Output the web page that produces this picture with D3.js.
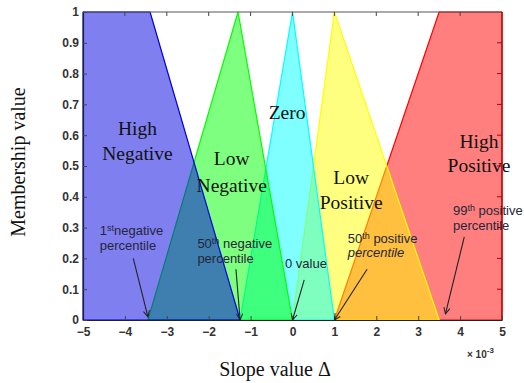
<!DOCTYPE html>
<html><head><meta charset="utf-8">
<script src="https://cdn.jsdelivr.net/npm/d3@7"></script>
<style>body{margin:0;background:#fff}svg{display:block}</style>
</head><body>
<script>
// Data
const xTicks = [-5,-4,-3,-2,-1,0,1,2,3,4,5];
const yTicks = [0,0.1,0.2,0.3,0.4,0.5,0.6,0.7,0.8,0.9,1];
const setNames = ["High Positive","Low Positive","Zero","Low Negative","High Negative"];
const setColors = ["#ff0000","#ffff00","#00ffff","#00ff00","#0000e0"];
const setPoints = [
  [[1.0,0],[3.5,1],[5,1],[5,0]],
  [[0,0],[1.0,1],[3.5,0]],
  [[-1.25,0],[0,1],[1.0,0]],
  [[-3.45,0],[-1.3,1],[0,0]],
  [[-5,0],[-5,1],[-3.4,1],[-1.25,0]]
];
const setLabels = [
  {lines:["High","Positive"], x:4.45, y:[0.56,0.48]},
  {lines:["Low","Positive"], x:1.4, y:[0.44,0.36]},
  {lines:["Zero"], x:-0.13, y:[0.652]},
  {lines:["Low","Negative"], x:-1.45, y:[0.502,0.415]},
  {lines:["High","Negative"], x:-3.7, y:[0.6,0.52]}
];
const notes = [
  {lines:["1|st|negative","percentile"], x:-4.6, y:[0.276,0.228], from:[-3.8,0.2], to:[-3.45,0.01], italic2:false},
  {lines:["50|th| negative","percentile"], x:-2.27, y:[0.234,0.185], from:[-1.35,0.165], to:[-1.25,0.0], italic2:false},
  {lines:["0 value"], x:-0.18, y:[0.17], from:[0.28,0.13], to:[0.0,0.0], italic2:false},
  {lines:["50|th| positive","percentile"], x:1.32, y:[0.25,0.203], from:[1.78,0.165], to:[1.0,0.0], italic2:true},
  {lines:["99|th| positive","percentile"], x:3.83, y:[0.34,0.292], from:[4.1,0.27], to:[3.65,0.02], italic2:false}
];

const W = 524, H = 383;
const m = {l:83, r:22, t:12, b:63};
const svg = d3.select("body").append("svg").attr("width",W).attr("height",H);
const x = d3.scaleLinear().domain([-5,5]).range([m.l, W-m.r]);
const y = d3.scaleLinear().domain([0,1]).range([H-m.b, m.t]);

const defs = svg.append("defs");
defs.append("marker").attr("id","arr").attr("viewBox","0 0 10 10").attr("refX",9).attr("refY",5)
  .attr("markerWidth",7).attr("markerHeight",7).attr("orient","auto")
  .append("path").attr("d","M1,1 L9,5 L1,9").attr("fill","none").attr("stroke","#222").attr("stroke-width",1.3);

// patches
const line = d3.line().x(d=>x(d[0])).y(d=>y(d[1]));
setPoints.forEach((pts,i)=>{
  svg.append("path").attr("d", line(pts)+"Z")
    .attr("fill", setColors[i]).attr("fill-opacity",0.5)
    .attr("stroke", setColors[i]).attr("stroke-width",1.2).attr("stroke-linejoin","round");
});

// frame
svg.append("line").attr("x1",x(-5)).attr("x2",x(5)).attr("y1",y(1)).attr("y2",y(1)).attr("stroke","#555").attr("stroke-width",1);
svg.append("line").attr("x1",x(5)).attr("x2",x(5)).attr("y1",y(1)).attr("y2",y(0)).attr("stroke","#b00000").attr("stroke-width",1.2);

// axes
const xa = svg.append("g").attr("transform",`translate(0,${y(0)})`)
  .call(d3.axisBottom(x).tickValues(xTicks).tickSize(-4).tickPadding(7).tickSizeOuter(0));
const ya = svg.append("g").attr("transform",`translate(${x(-5)},0)`)
  .call(d3.axisLeft(y).tickValues(yTicks).tickSize(-4).tickPadding(4).tickSizeOuter(0)
    .tickFormat(d=> d===0?"0":d===1?"1":d3.format(".1f")(d)));
[xa,ya].forEach(g=>{
  g.select(".domain").attr("stroke","#222").attr("stroke-width",1.2);
  g.selectAll(".tick line").attr("stroke","#444");
  g.selectAll("text").attr("font-family","Arial, 'Liberation Sans', sans-serif")
    .attr("font-size",12).attr("font-weight","bold").attr("fill","#333");
});
// top & right ticks
svg.append("g").selectAll("line").data(xTicks.slice(1,-1)).join("line")
  .attr("x1",d=>x(d)).attr("x2",d=>x(d)).attr("y1",y(1)).attr("y2",y(1)+4).attr("stroke","#444");
svg.append("g").selectAll("line").data(yTicks.slice(1,-1)).join("line")
  .attr("x1",x(5)).attr("x2",x(5)-5).attr("y1",d=>y(d)).attr("y2",d=>y(d)).attr("stroke","#b00000");

// exponent
const ex = svg.append("text").attr("x",467).attr("y",358).attr("font-family","Arial, 'Liberation Sans', sans-serif")
  .attr("font-size",10).attr("font-weight","bold").attr("fill","#333");
ex.append("tspan").text("\u00d7 10");
ex.append("tspan").attr("dy",-5).attr("font-size",8).text("-3");

// set labels
setLabels.forEach(s=>{
  s.lines.forEach((t,j)=>{
    svg.append("text").attr("x",x(s.x)).attr("y",y(s.y[j])).attr("text-anchor","middle")
      .attr("font-family","'Liberation Serif','Times New Roman',serif").attr("font-size",19.5)
      .attr("fill","#111").text(t);
  });
});

// annotations
notes.forEach(n=>{
  n.lines.forEach((t,j)=>{
    const tx = svg.append("text").attr("x",x(n.x)).attr("y",y(n.y[j]))
      .attr("font-family","Arial, 'Liberation Sans', sans-serif").attr("font-size",13)
      .attr("fill","#26263a");
    if (j===1 && n.italic2) tx.attr("font-style","italic");
    const parts = t.split("|");
    parts.forEach((p,k)=>{
      const sp = tx.append("tspan").text(p);
      if (k===1) sp.attr("font-size",9).attr("dy",-4);
      if (k===2) sp.attr("dy",4);
    });
  });
  svg.append("line").attr("x1",x(n.from[0])).attr("y1",y(n.from[1]))
    .attr("x2",x(n.to[0])).attr("y2",y(n.to[1])).attr("stroke","#222").attr("stroke-width",1.1)
    .attr("marker-end","url(#arr)");
});

// axis titles
svg.append("text").attr("x",275).attr("y",376).attr("text-anchor","middle")
  .attr("font-family","'Liberation Serif','Times New Roman',serif").attr("font-size",20).attr("fill","#111")
  .text("Slope value \u0394");
svg.append("text").attr("transform","translate(25,162) rotate(-90)").attr("text-anchor","middle")
  .attr("font-family","'Liberation Serif','Times New Roman',serif").attr("font-size",20).attr("fill","#111")
  .text("Membership value");
</script>
</body></html>
